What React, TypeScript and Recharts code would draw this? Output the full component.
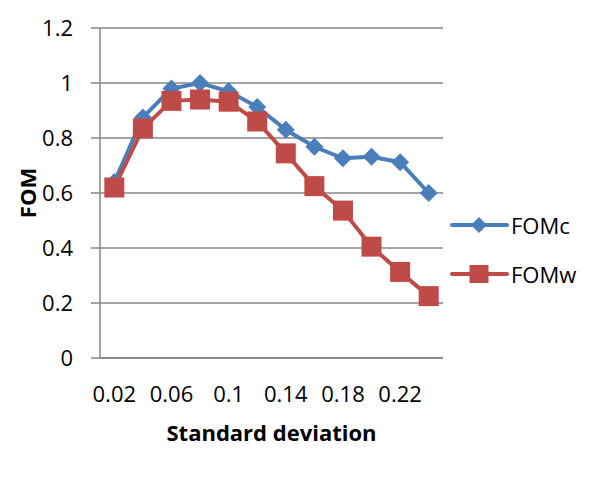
import { LineChart, Line, XAxis, YAxis, CartesianGrid, Legend } from 'recharts';

const stdDevs = ['0.02', '0.04', '0.06', '0.08', '0.1', '0.12', '0.14', '0.16', '0.18', '0.2', '0.22', '0.24'];
const fomC = [0.64, 0.875, 0.98, 1.0, 0.97, 0.913, 0.83, 0.768, 0.726, 0.732, 0.712, 0.6];
const fomW = [0.62, 0.835, 0.935, 0.94, 0.932, 0.86, 0.744, 0.625, 0.536, 0.405, 0.313, 0.225];
const yTicks = [0, 0.2, 0.4, 0.6, 0.8, 1, 1.2];

const BLUE = '#4a7ebb';
const RED = '#be4b48';
const GRID = '#868686';

const data = stdDevs.map((sd, i) => ({ sd, FOMc: fomC[i], FOMw: fomW[i] }));

function Diamond({ cx, cy, r, color }: { cx: number; cy: number; r: number; color: string }) {
  return <polygon points={`${cx},${cy - r} ${cx + r},${cy} ${cx},${cy + r} ${cx - r},${cy}`} fill={color} />;
}

const diamondDot = (props: any) => (
  <Diamond key={`c-${props.index}`} cx={props.cx} cy={props.cy} r={9} color={BLUE} />
);

const squareDot = (props: any) => (
  <rect key={`w-${props.index}`} x={props.cx - 10} y={props.cy - 10} width={20} height={20} fill={RED} />
);

// legend drawn by hand so the markers sit on the line like in Excel
const renderLegend = (props: any) => {
  const items = props.payload || [];
  return (
    <svg width={154} height={92}>
      {items.map((item: any, i: number) => {
        const y = 20 + i * 49;
        return (
          <g key={item.value}>
            <line x1={2} x2={57} y1={y} y2={y} stroke={item.color} strokeWidth={4} strokeLinecap="round" />
            {item.dataKey === 'FOMc' ? (
              <Diamond cx={29} cy={y} r={8} color={item.color} />
            ) : (
              <rect x={19.5} y={y - 9} width={19} height={18} fill={item.color} />
            )}
            <text x={61} y={y + 9} fontSize={22} fill="#000">
              {item.value}
            </text>
          </g>
        );
      })}
    </svg>
  );
};

export default function App() {
  return (
    <div
      style={{
        position: 'relative',
        margin: -8,
        width: 604,
        height: 490,
        overflow: 'hidden',
        background: '#fff',
        fontFamily: '"Open Sans", sans-serif',
      }}
    >
      <div
        style={{
          position: 'absolute',
          left: 6,
          top: 5,
          width: 700,
          height: 600,
          borderLeft: `2px solid ${GRID}`,
          borderTop: `2px solid ${GRID}`,
        }}
      />
      <LineChart width={604} height={490} data={data} margin={{ top: 28, right: 161, bottom: 0, left: 0 }}>
        <CartesianGrid vertical={false} stroke={GRID} strokeWidth={1.5} />
        <XAxis
          dataKey="sd"
          interval={1}
          height={132}
          padding={{ left: 14.3, right: 14.3 }}
          tickLine={false}
          tickSize={0}
          tickMargin={28}
          axisLine={{ stroke: GRID, strokeWidth: 1.5 }}
          tick={{ fontSize: 22, fill: '#000' }}
          label={{
            value: 'Standard deviation',
            position: 'insideBottom',
            offset: 49,
            fontSize: 22,
            fontWeight: 700,
            fill: '#000',
          }}
        />
        <YAxis
          width={100}
          domain={[0, 1.2]}
          ticks={yTicks}
          tickSize={9}
          tickMargin={18}
          tickLine={{ stroke: GRID, strokeWidth: 1.5 }}
          axisLine={{ stroke: GRID, strokeWidth: 1.5 }}
          tick={{ fontSize: 22, fill: '#000' }}
          label={{
            value: 'FOM',
            angle: -90,
            position: 'insideLeft',
            offset: 28,
            textAnchor: 'middle',
            fontSize: 22,
            fontWeight: 700,
            fill: '#000',
          }}
        />
        <Legend
          layout="vertical"
          align="center"
          verticalAlign="middle"
          content={renderLegend}
          wrapperStyle={{ position: 'absolute', left: 450, top: 205, width: 154 }}
        />
        <Line
          dataKey="FOMc"
          name="FOMc"
          stroke={BLUE}
          strokeWidth={4}
          dot={diamondDot}
          activeDot={false}
          isAnimationActive={false}
        />
        <Line
          dataKey="FOMw"
          name="FOMw"
          stroke={RED}
          strokeWidth={4}
          dot={squareDot}
          activeDot={false}
          isAnimationActive={false}
        />
      </LineChart>
    </div>
  );
}
